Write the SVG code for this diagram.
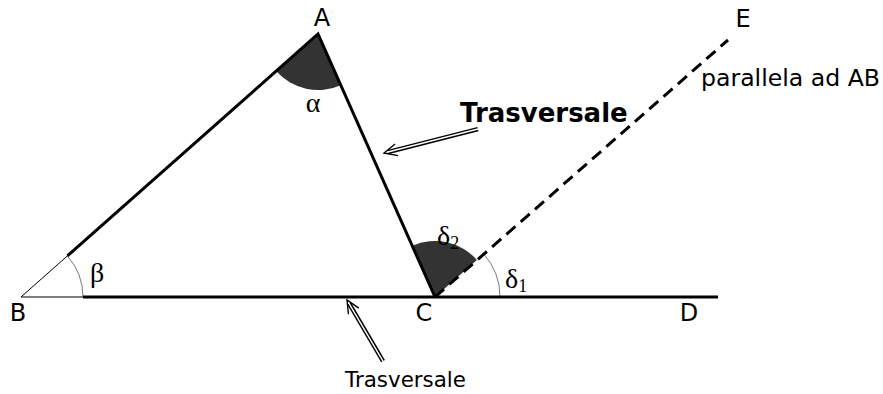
<svg xmlns="http://www.w3.org/2000/svg" width="883" height="394" viewBox="0 0 883 394">
<style>
.lbl{font-family:"DejaVu Sans",Verdana,sans-serif;font-size:24px;fill:#000}
.gr{font-family:"Liberation Serif","Times New Roman",serif;font-size:28px;fill:#000}
.sub{font-family:"Liberation Serif","Times New Roman",serif;font-size:18px;fill:#000}
.thick{stroke:#000;stroke-width:3;fill:none}
.thin{stroke:#000;stroke-width:1;fill:none}
.arc{stroke:#555;stroke-width:0.8;fill:none}
.sector{fill:#333;stroke:none}
.shaft{stroke:#000;stroke-width:4.4}
.shaftw{stroke:#fff;stroke-width:1.4}
.head{fill:none;stroke:#000;stroke-width:1.4}
</style>
<rect width="883" height="394" fill="#fff"/>
<g id="angles">
<path class="sector" d="M318,34 L276.1,71.1 A56,56 0 0,0 340.8,85.2 Z"/>
<path class="sector" d="M435,297 L412.3,245.8 A56,56 0 0,1 476.9,259.9 Z"/>
<path class="arc" d="M483.7,253.9 A65,65 0 0,1 500,297"/>
<path class="arc" d="M83,297 A62,62 0 0,0 67.4,255.9"/>
</g>
<g id="connectors">
<line class="thin" x1="21" y1="297" x2="67.4" y2="255.9"/>
<line class="thin" x1="21" y1="297" x2="83" y2="297"/>
<path class="thick" d="M67.4,255.9 L318,34 L435,297" stroke-miterlimit="10"/>
<line class="thick" x1="83" y1="297" x2="718" y2="297"/>
<line class="thick" x1="435" y1="297" x2="728" y2="40" stroke-dasharray="12 7"/>
<g transform="translate(384,153) rotate(-14.3)">
<line class="shaft" x1="97" y1="0" x2="4" y2="0"/>
<line class="shaftw" x1="98" y1="0" x2="3" y2="0"/>
<polyline class="head" points="13,-6 0,0 13,6"/>
</g>
<g transform="translate(347,300) rotate(59.5)">
<line class="shaft" x1="71" y1="0" x2="4" y2="0"/>
<line class="shaftw" x1="72" y1="0" x2="3" y2="0"/>
<polyline class="head" points="13,-6 0,0 13,6"/>
</g>
</g>
<g id="A"><text class="lbl" x="322" y="26" text-anchor="middle">A</text></g>
<g id="B"><text class="lbl" x="18" y="321" text-anchor="middle">B</text></g>
<g id="C"><text class="lbl" x="424" y="321" text-anchor="middle">C</text></g>
<g id="D"><text class="lbl" x="689" y="321" text-anchor="middle">D</text></g>
<g id="E"><text class="lbl" x="743" y="27" text-anchor="middle">E</text></g>
<g id="parallela"><text class="lbl" x="701" y="86" style="font-size:23.6px">parallela ad AB</text></g>
<g id="trasv1"><text class="lbl" x="460" y="122" style="font-size:26px;font-weight:bold">Trasversale</text></g>
<g id="trasv2"><text class="lbl" x="345" y="387" style="font-size:21.4px">Trasversale</text></g>
<g id="greek">
<text class="gr" x="313" y="112" text-anchor="middle">α</text>
<text class="gr" x="97" y="282" text-anchor="middle">β</text>
<text class="gr" x="437" y="245">δ<tspan class="sub" dy="4">2</tspan></text>
<text class="gr" x="505" y="288">δ<tspan class="sub" dy="4">1</tspan></text>
</g>
</svg>
